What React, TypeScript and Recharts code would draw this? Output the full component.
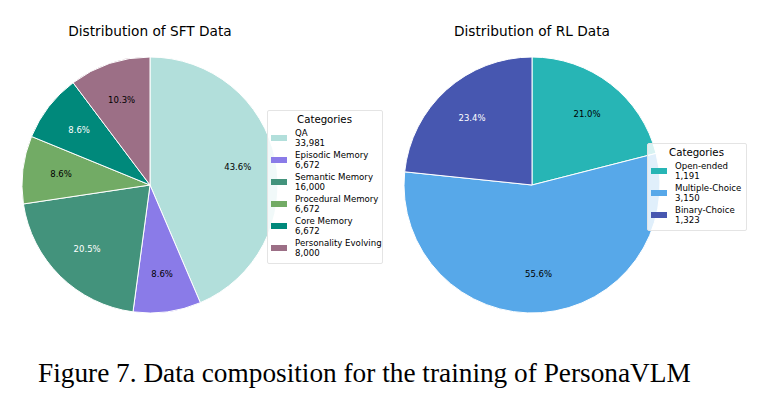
import React from 'react';
import { PieChart, Pie, Cell } from 'recharts';

// SFT split
const sftNames = ['QA', 'Episodic Memory', 'Semantic Memory', 'Procedural Memory', 'Core Memory', 'Personality Evolving'];
const sftCounts = [33981, 6672, 16000, 6672, 6672, 8000];
const sftColors = ['#b2dfdb', '#8a7be8', '#43937c', '#72ab65', '#00897b', '#9c6f86'];
const sftLabelColors = ['#000', '#000', '#fff', '#000', '#fff', '#000'];

// RL split
const rlNames = ['Open-ended', 'Multiple-Choice', 'Binary-Choice'];
const rlCounts = [1191, 3150, 1323];
const rlColors = ['#27b5b5', '#57a8e9', '#4757b0'];
const rlLabelColors = ['#000', '#000', '#fff'];

const FONT = '"DejaVu Sans", Verdana, sans-serif';
const RADIAN = Math.PI / 180;

const makeLabel = (colors: string[]) => (props: any) => {
  const { cx, cy, midAngle, outerRadius, percent, index } = props;
  const r = outerRadius * 0.7;
  const x = cx + r * Math.cos(-midAngle * RADIAN);
  const y = cy + r * Math.sin(-midAngle * RADIAN);
  return (
    <text
      x={x}
      y={y}
      fill={colors[index]}
      textAnchor="middle"
      dominantBaseline="central"
      fontSize={8.5}
      fontFamily={FONT}
    >
      {(percent * 100).toFixed(1)}%
    </text>
  );
};

const LegendBox: React.FC<{
  names: string[];
  counts: number[];
  colors: string[];
  left: number;
  top: number;
  width: number;
}> = ({ names, counts, colors, left, top, width }) => (
  <div
    style={{
      position: 'absolute',
      left,
      top,
      width,
      background: 'rgba(255,255,255,0.82)',
      border: '1px solid #e4e4e4',
      borderRadius: 2,
      fontFamily: FONT,
      padding: '3px 4px 4px 3px',
      boxSizing: 'border-box',
    }}
  >
    <div style={{ fontSize: 10.2, textAlign: 'center', lineHeight: '12px', marginBottom: 1 }}>Categories</div>
    {names.map((n, i) => (
      <div key={n} style={{ display: 'flex', alignItems: 'center', height: 22 }}>
        <div style={{ width: 16, height: 6, background: colors[i], marginRight: 8, flexShrink: 0 }} />
        <div style={{ fontSize: 8.6, lineHeight: '10px', whiteSpace: 'nowrap' }}>
          {n}
          <br />
          {counts[i].toLocaleString('en-US')}
        </div>
      </div>
    ))}
  </div>
);

const PiePanel: React.FC<{
  title: string;
  names: string[];
  counts: number[];
  colors: string[];
  labelColors: string[];
  left: number;
}> = ({ title, names, counts, colors, labelColors, left }) => {
  const data = names.map((name, i) => ({ name, value: counts[i] }));
  return (
    <div style={{ position: 'absolute', left, top: 0, width: 300, height: 340 }}>
      <div
        style={{
          position: 'absolute',
          left: 0,
          top: 23,
          width: 300,
          textAlign: 'center',
          fontFamily: FONT,
          fontSize: 13.7,
          lineHeight: '16px',
        }}
      >
        {title}
      </div>
      <PieChart width={300} height={340} margin={{ top: 0, right: 0, bottom: 0, left: 0 }}>
        <Pie
          data={data}
          dataKey="value"
          nameKey="name"
          cx={150}
          cy={185}
          outerRadius={128}
          startAngle={90}
          endAngle={-270}
          stroke="#fff"
          strokeWidth={1}
          label={makeLabel(labelColors)}
          labelLine={false}
          isAnimationActive={false}
        >
          {data.map((d, i) => (
            <Cell key={d.name} fill={colors[i]} />
          ))}
        </Pie>
      </PieChart>
    </div>
  );
};

export default function App() {
  return (
    <div style={{ position: 'absolute', left: 0, top: 0, width: 763, height: 405, background: '#fff', overflow: 'hidden' }}>
      <PiePanel title="Distribution of SFT Data" names={sftNames} counts={sftCounts} colors={sftColors} labelColors={sftLabelColors} left={0} />
      <PiePanel title="Distribution of RL Data" names={rlNames} counts={rlCounts} colors={rlColors} labelColors={rlLabelColors} left={382} />
      <LegendBox names={sftNames} counts={sftCounts} colors={sftColors} left={267} top={110} width={116} />
      <LegendBox names={rlNames} counts={rlCounts} colors={rlColors} left={647} top={143} width={100} />
      <div
        style={{
          position: 'absolute',
          left: 38,
          top: 357,
          fontFamily: '"Liberation Serif", "Times New Roman", serif',
          fontSize: 27.3,
          lineHeight: '32px',
          whiteSpace: 'nowrap',
        }}
      >
        Figure 7. Data composition for the training of PersonaVLM
      </div>
    </div>
  );
}
